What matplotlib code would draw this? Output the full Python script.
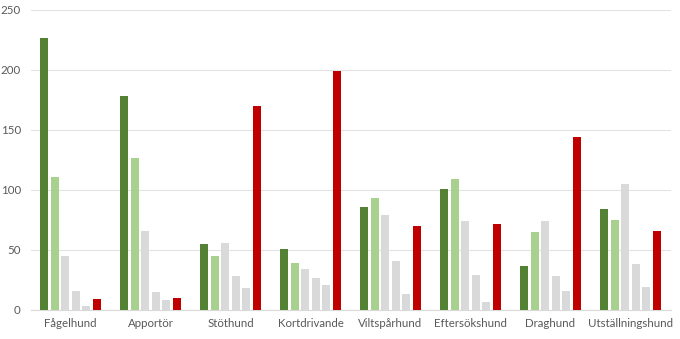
import numpy as np
import matplotlib
matplotlib.use("Agg")
import matplotlib.pyplot as plt

plt.rcParams['font.family'] = ['Lato', 'DejaVu Sans']

# data
categories = ['Fågelhund', 'Apportör', 'Stöthund', 'Kortdrivande',
              'Viltspårhund', 'Eftersökshund', 'Draghund', 'Utställningshund']
serie1 = [227, 178, 55, 51, 86, 101, 37, 84]
serie2 = [111, 127, 45, 39, 93, 109, 65, 75]
serie3 = [45, 66, 56, 34, 79, 74, 74, 105]
serie4 = [16, 15, 28, 27, 41, 29, 28, 38]
serie5 = [3, 8, 18, 21, 13, 7, 16, 19]
serie6 = [9, 10, 170, 199, 70, 72, 144, 66]

series = [serie1, serie2, serie3, serie4, serie5, serie6]
colors = ['#548235', '#A9D18E', '#D9D9D9', '#D9D9D9', '#D9D9D9', '#C00000']

fig = plt.figure(figsize=(6.8, 3.39), dpi=100)
ax = fig.add_axes([30.5 / 680, 29 / 339, 640 / 680, 300 / 339])

x = np.arange(len(categories))
step = 0.1325
for i, (vals, c) in enumerate(zip(series, colors)):
    ax.bar(x + (i - 2.5) * step, vals, width=0.1, color=c, zorder=3)

ax.set_xlim(-0.5, len(categories) - 0.5)
ax.set_ylim(0, 250)
ax.set_yticks([0, 50, 100, 150, 200, 250])
ax.set_xticks(x)
ax.set_xticklabels(categories)
ax.grid(axis='y', color='#E3E3E3', linewidth=0.8, zorder=0)
ax.tick_params(axis='both', length=0, colors='#595959', labelsize=8.3)
ax.tick_params(axis='y', pad=7)
ax.tick_params(axis='x', pad=6)
for s in ['top', 'right', 'left']:
    ax.spines[s].set_visible(False)
ax.spines['bottom'].set_color('#D9D9D9')
ax.spines['bottom'].set_linewidth(0.8)

fig.savefig('out.png', dpi=100)
